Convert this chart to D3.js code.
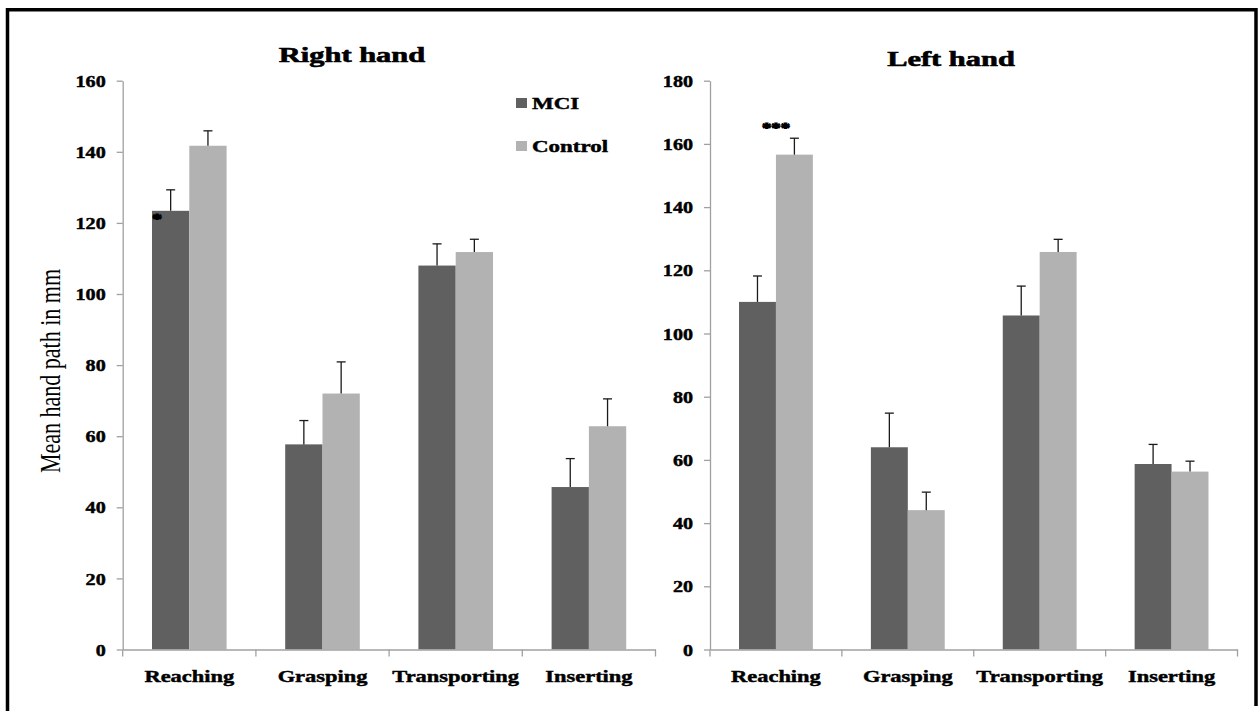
<!DOCTYPE html>
<html>
<head>
<meta charset="utf-8">
<script src="https://cdn.jsdelivr.net/npm/d3@7"></script>
<style>
  body { margin: 0; background: #fff; }
  svg { display: block; }
  text { font-family: "Liberation Serif", "Times New Roman", serif; fill: #000; }
  text.heavy { stroke: #000; stroke-width: 0.45; }
</style>
</head>
<body>
<svg id="chart" width="1259" height="711"></svg>
<script>
// Tasks and groups
const tasks = ["Reaching", "Grasping", "Transporting", "Inserting"];
const groups = ["MCI", "Control"];

// Right hand values (mean and +SE)
const rightMCI = [123.4, 57.7, 108.0, 45.7];
const rightMCIErr = [5.9, 6.7, 6.1, 8.0];
const rightControl = [141.7, 72.0, 111.8, 62.8];
const rightControlErr = [4.2, 8.9, 3.6, 7.7];
const rightTicks = [0, 20, 40, 60, 80, 100, 120, 140, 160];
const rightSig = ["*", "", "", ""];

// Left hand values (mean and +SE)
const leftMCI = [110.0, 64.0, 105.7, 58.7];
const leftMCIErr = [8.2, 10.8, 9.3, 6.2];
const leftControl = [156.6, 44.1, 125.8, 56.3];
const leftControlErr = [5.2, 5.7, 4.0, 3.3];
const leftTicks = [0, 20, 40, 60, 80, 100, 120, 140, 160, 180];
const leftSig = ["***", "", "", ""];

const colors = { MCI: "#606060", Control: "#b2b2b2" };
const axisColor = "#a0a0a0";

const svg = d3.select("#chart");

// Outer frame (bottom edge is cut off in the original)
svg.append("path")
    .attr("d", "M7.5,711 V9.8 H1256 V706")
    .attr("fill", "none")
    .attr("stroke", "#000")
    .attr("stroke-width", 3.5);

const plotTop = 80.7, plotBottom = 649.5;

const panels = [
    { title: "Right hand", titleX: 352, titleY: 62, x0: 122.7, x1: 655.5,
      mci: rightMCI, mciErr: rightMCIErr, ctrl: rightControl, ctrlErr: rightControlErr,
      ticks: rightTicks, sig: rightSig, sigMode: "inBar" },
    { title: "Left hand", titleX: 951, titleY: 66, x0: 710, x1: 1237.5,
      mci: leftMCI, mciErr: leftMCIErr, ctrl: leftControl, ctrlErr: leftControlErr,
      ticks: leftTicks, sig: leftSig, sigMode: "above" }
];

// Stretch text horizontally around its anchor, like the original picture
function stretch(sel, sx, dy) {
    sel.each(function () {
        const t = d3.select(this);
        const x = +t.attr("x") || 0;
        t.attr("x", 0).attr("y", 0).attr("dy", null)
         .attr("transform", `translate(${x},${dy}) scale(${sx},1)`);
    });
}

panels.forEach(p => {
    const yMax = p.ticks[p.ticks.length - 1];
    const y = d3.scaleLinear().domain([0, yMax]).range([plotBottom, plotTop]);
    const x = d3.scaleBand().domain(tasks).range([p.x0, p.x1])
        .paddingInner(0.44).paddingOuter(0.22);
    const sub = d3.scaleBand().domain(groups).range([0, x.bandwidth()]);

    const rows = tasks.map((t, i) => ({
        task: t,
        values: [
            { group: "MCI", v: p.mci[i], e: p.mciErr[i] },
            { group: "Control", v: p.ctrl[i], e: p.ctrlErr[i] }
        ],
        sig: p.sig[i]
    }));

    const g = svg.append("g");

    // Bars
    const grp = g.selectAll(".grp").data(rows).join("g")
        .attr("transform", d => `translate(${x(d.task)},0)`);

    grp.selectAll("rect").data(d => d.values).join("rect")
        .attr("x", d => sub(d.group))
        .attr("y", d => y(d.v))
        .attr("width", sub.bandwidth())
        .attr("height", d => y(0) - y(d.v))
        .attr("fill", d => colors[d.group]);

    // Error bars (upper only)
    const err = grp.selectAll(".err").data(d => d.values).join("g");
    err.append("line")
        .attr("x1", d => sub(d.group) + sub.bandwidth() / 2)
        .attr("x2", d => sub(d.group) + sub.bandwidth() / 2)
        .attr("y1", d => y(d.v))
        .attr("y2", d => y(d.v + d.e))
        .attr("stroke", "#1a1a1a").attr("stroke-width", 1.3);
    err.append("line")
        .attr("x1", d => sub(d.group) + sub.bandwidth() / 2 - 4.5)
        .attr("x2", d => sub(d.group) + sub.bandwidth() / 2 + 4.5)
        .attr("y1", d => y(d.v + d.e))
        .attr("y2", d => y(d.v + d.e))
        .attr("stroke", "#1a1a1a").attr("stroke-width", 1.3);

    // Significance marks
    grp.filter(d => d.sig).append("text")
        .attr("class", "heavy")
        .attr("text-anchor", "middle")
        .attr("font-weight", "bold")
        .attr("font-size", p.sigMode === "inBar" ? 15 : 15)
        .attr("stroke-width", 1)
        .style("stroke-width", "1px")
        .attr("transform", d => {
            if (p.sigMode === "inBar") {
                return `translate(${sub("MCI") + 5},${y(d.values[0].v) + 13}) scale(1.3,1)`;
            }
            const c = d.values[1];
            return `translate(${x.bandwidth() / 2},${y(c.v + c.e) - 5}) scale(1.25,1)`;
        })
        .text(d => d.sig);

    // Y axis
    const yAxis = g.append("g")
        .attr("transform", `translate(${p.x0},0)`)
        .call(d3.axisLeft(y).tickValues(p.ticks).tickSize(6).tickSizeOuter(0).tickPadding(11));
    yAxis.select(".domain").attr("stroke", axisColor).attr("stroke-width", 1.3);
    yAxis.selectAll(".tick line").attr("stroke", axisColor).attr("stroke-width", 1.3);
    yAxis.selectAll(".tick text")
        .attr("class", "heavy")
        .attr("font-size", 16.5).attr("font-weight", "bold")
        .attr("font-family", "Liberation Serif, Times New Roman, serif")
        .attr("fill", "#000")
        .call(stretch, 1.22, 5.6);

    // X axis: line, boundary ticks, labels
    const xAxis = g.append("g")
        .attr("transform", `translate(0,${plotBottom})`)
        .call(d3.axisBottom(x).tickSize(0).tickSizeOuter(0));
    xAxis.select(".domain").attr("stroke", axisColor).attr("stroke-width", 1.3);
    xAxis.selectAll(".tick text")
        .attr("class", "heavy")
        .attr("font-size", 17).attr("font-weight", "bold")
        .attr("font-family", "Liberation Serif, Times New Roman, serif")
        .attr("fill", "#000")
        .call(stretch, 1.32, 32.5);

    const gap = (x.step() - x.bandwidth()) / 2;
    const bounds = tasks.map(t => x(t) - gap).concat([p.x1]);
    xAxis.selectAll(".bound").data(bounds).join("line")
        .attr("x1", d => d).attr("x2", d => d)
        .attr("y1", 0).attr("y2", 7)
        .attr("stroke", axisColor).attr("stroke-width", 1.3);

    // Panel title
    svg.append("text")
        .attr("class", "heavy")
        .attr("text-anchor", "middle")
        .attr("font-size", 21).attr("font-weight", "bold")
        .style("stroke-width", "0.6px")
        .attr("transform", `translate(${p.titleX},${p.titleY}) scale(1.45,1)`)
        .text(p.title);
});

// Legend
const legend = svg.append("g");
groups.forEach((name, i) => {
    legend.append("rect")
        .attr("x", 516).attr("y", 98 + i * 43)
        .attr("width", 11).attr("height", 10)
        .attr("fill", colors[name]);
    legend.append("text")
        .attr("class", "heavy")
        .attr("font-size", 17).attr("font-weight", "bold")
        .attr("transform", `translate(532,${109 + i * 43}) scale(1.35,1)`)
        .text(name);
});

// Y axis title
svg.append("text")
    .attr("text-anchor", "middle")
    .attr("font-size", 22)
    .attr("transform", "translate(60,371) scale(1.3,1) rotate(-90)")
    .text("Mean hand path in mm");
</script>
</body>
</html>
